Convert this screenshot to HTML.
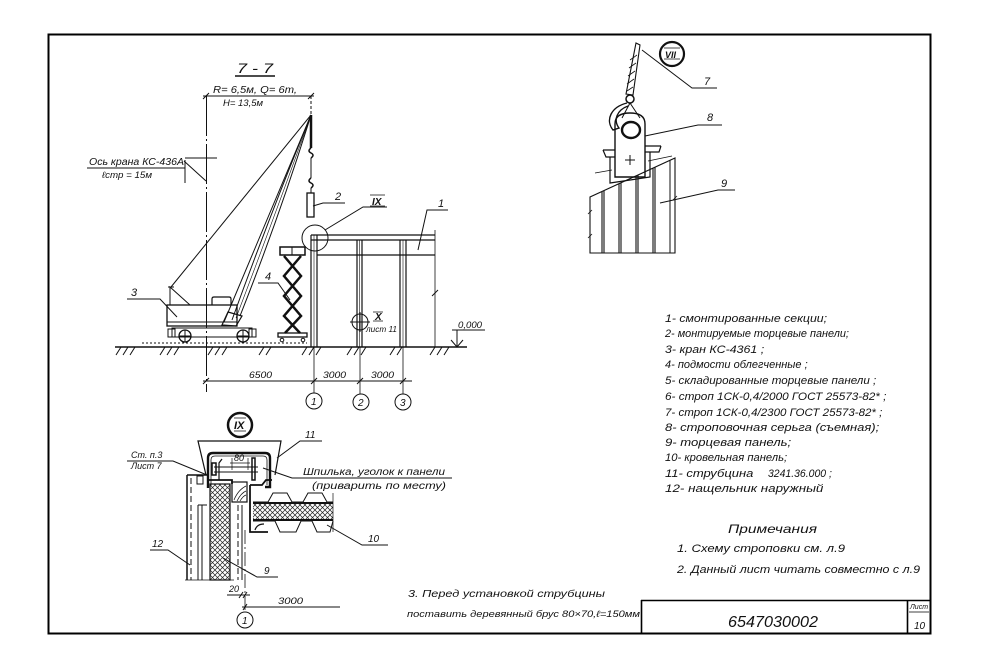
<!DOCTYPE html>
<html><head><meta charset="utf-8">
<style>
html,body{margin:0;padding:0;background:#fff;}
svg{display:block}
text{font-family:"Liberation Sans","DejaVu Sans",sans-serif;font-style:italic;fill:#111;}
</style></head><body>
<svg width="982" height="670" viewBox="0 0 982 670" xmlns="http://www.w3.org/2000/svg">
<defs>
<pattern id="xh" width="5" height="5" patternUnits="userSpaceOnUse">
<path d="M0,0 L5,5 M5,0 L0,5" stroke="#222" stroke-width="0.7"/>
</pattern>
</defs>
<rect width="982" height="670" fill="#fff"/>

<!-- frame -->
<path d="M48.5,633.5 V34.5 H930.5 V633.5 Z" fill="none" stroke="#000" stroke-width="2"/>
<!-- title block -->
<g stroke="#000" fill="none">
<path d="M641,600.5 H930 M641.5,600 V633 M907.5,600 V633" stroke-width="1.6"/>
<path d="M909,612 H929" stroke-width="0.8"/>
</g>
<text x="728" y="627" font-size="16" textLength="90" lengthAdjust="spacingAndGlyphs">6547030002</text>
<text x="910" y="609" font-size="7">Лист</text>
<text x="914" y="629" font-size="10">10</text>

<!-- ============ SECTION 7-7 ============ -->
<g stroke="#111" fill="none" stroke-width="1">
<text x="237" y="73" font-size="14" textLength="36" lengthAdjust="spacingAndGlyphs" stroke="none">7 - 7</text>
<line x1="235" y1="76" x2="275" y2="76" stroke-width="1.5"/>
<line x1="203" y1="96" x2="314" y2="96"/>
<path d="M203,99 L209,93 M308,99 L314,93"/>
<line x1="206.5" y1="96" x2="206.5" y2="392" stroke-dasharray="40,3,2,3"/>
<line x1="311" y1="96" x2="311" y2="115" stroke-dasharray="3,2"/>
<line x1="87" y1="168" x2="185" y2="168"/>
<line x1="185" y1="158" x2="217" y2="158"/>
<path d="M184,161 L206,181"/>
<line x1="185" y1="160" x2="185" y2="183"/>

<rect x="167" y="305" width="70" height="21" stroke-width="1.3"/>
<line x1="167" y1="322" x2="237" y2="322"/>
<path d="M212,305 V299 Q212,297 214,297 H229 Q231,297 231,299 V305" stroke-width="1.2"/>
<path d="M170,305 V287 L190,305 M168,287 H174"/>
<line x1="171" y1="287" x2="311" y2="115"/>
<path d="M224,322 L311,115"/>
<path d="M240,316 Q280,215 311,115"/>
<path d="M232,320 Q268,220 311,115"/>
<path d="M236,318 Q274,218 311,115" stroke-width="0.6"/>
<path d="M222,325 L228,312 L242,316 L236,326 Z" stroke-width="1.2"/>
<rect x="172" y="328" width="80" height="9"/>
<rect x="168" y="329" width="7" height="8"/>
<rect x="249" y="329" width="7" height="8"/>
<circle cx="185" cy="336" r="6" stroke-width="1.3"/>
<circle cx="243" cy="336" r="6" stroke-width="1.3"/>
<path d="M179,336 H191 M185,330 V342 M237,336 H249 M243,330 V342"/>
<path d="M142,343 H307" stroke-dasharray="2,2"/>
<line x1="115" y1="347" x2="467" y2="347" stroke-width="1.5"/>
<path d="M116,355 L121,347 M123,355 L128,347 M130,355 L135,347
M160,355 L165,347 M167,355 L172,347 M174,355 L179,347
M208,355 L213,347 M215,355 L220,347 M222,355 L227,347
M259,355 L264,347 M266,355 L271,347
M302,355 L307,347 M309,355 L314,347 M316,355 L321,347
M347,355 L352,347 M354,355 L359,347 M361,355 L366,347
M390,355 L395,347 M397,355 L402,347
M430,355 L435,347 M437,355 L442,347 M444,355 L449,347"/>
<line x1="311" y1="115" x2="311" y2="148" stroke-width="2.5"/>
<path d="M311,148 Q307,151 311,153 Q315,155 311,158" stroke-width="1.5"/>
<line x1="311" y1="158" x2="311" y2="178"/>
<path d="M311,178 Q307,181 311,183 Q315,185 311,188" stroke-width="1.5"/>
<line x1="311" y1="188" x2="311" y2="193"/>
<rect x="307" y="193" width="7" height="24" stroke-width="1.3"/>
<path d="M311,235 H435 M311,240 H435 M317,255 H435" stroke-width="1.2"/>
<path d="M311,235 V347 M317,235 V347 M357,240 V347 M362,240 V347 M400,240 V347 M406,240 V347" stroke-width="1.2"/>
<path d="M314,235 V347 M359.5,240 V347 M403,240 V347" stroke-width="0.6"/>
<line x1="435" y1="230" x2="435" y2="347" stroke-width="0.8"/>
<path d="M432,296 L438,290"/>
<circle cx="315" cy="238" r="13"/>
<path d="M325,230 L363,207 H387"/>
<path d="M418,250 L427,210 H448"/>
<path d="M313,206 L323,203 H345"/>
<path d="M177,317 L160,299 H127"/>
<path d="M290,300 L278,283 H258"/>
<rect x="280" y="247" width="25" height="8" stroke-width="1.5"/>
<line x1="292" y1="247" x2="292" y2="255"/>
<path d="M284,256 L301,276 L284,296 L301,316 L285,333" stroke-width="2.5"/>
<path d="M301,256 L284,276 L301,296 L284,316 L300,333" stroke-width="2.5"/>
<rect x="278" y="333" width="29" height="4" stroke-width="1.3"/>
<circle cx="282" cy="340" r="1.8"/><circle cx="303" cy="340" r="1.8"/>
<circle cx="360" cy="322" r="8"/>
<path d="M350,322 H370 M360,312 V332"/>
<path d="M373,312 H383 M373,321 H383" stroke-width="0.8"/>
<path d="M452,330 H485 M457,330 V347 M451,340 L457,347 L463,340"/>
<line x1="203" y1="381" x2="412" y2="381"/>
<path d="M203,384 L209,378 M311,384 L317,378 M357,384 L363,378 M400,384 L406,378"/>
<path d="M314,347 V393 M360,347 V394 M403,347 V394" stroke-width="0.8"/>
<circle cx="314" cy="401" r="8"/><circle cx="361" cy="402" r="8"/><circle cx="403" cy="402" r="8"/>
</g>
<g font-size="10">
<text x="213" y="93" textLength="84" lengthAdjust="spacingAndGlyphs">R= 6,5м, Q= 6т,</text>
<text x="223" y="106" font-size="9" textLength="40" lengthAdjust="spacingAndGlyphs">Н= 13,5м</text>
<text x="89" y="165" font-size="10" textLength="95" lengthAdjust="spacingAndGlyphs">Ось крана КС-436А</text>
<text x="102" y="178" font-size="9" textLength="50" lengthAdjust="spacingAndGlyphs">ℓстр = 15м</text>
<text x="372" y="205" font-style="normal" font-family="Liberation Serif" font-weight="bold">IX</text>
<path d="M370,195 H385 M370,206 H385" stroke="#111" stroke-width="0.8"/>
<text x="438" y="207" font-size="11">1</text>
<text x="335" y="200" font-size="11">2</text>
<text x="131" y="296" font-size="11">3</text>
<text x="265" y="280" font-size="11">4</text>
<text x="375" y="320" font-style="normal" font-family="Liberation Serif" font-weight="bold">X</text>
<text x="366" y="332" font-size="8" textLength="31" lengthAdjust="spacingAndGlyphs">лист 11</text>
<text x="458" y="328" font-size="9" textLength="24" lengthAdjust="spacingAndGlyphs">0,000</text>
<text x="249" y="378" font-size="9" textLength="23" lengthAdjust="spacingAndGlyphs">6500</text>
<text x="323" y="378" font-size="9" textLength="23" lengthAdjust="spacingAndGlyphs">3000</text>
<text x="371" y="378" font-size="9" textLength="23" lengthAdjust="spacingAndGlyphs">3000</text>
<text x="311" y="405" font-size="10">1</text>
<text x="358" y="406" font-size="10">2</text>
<text x="400" y="406" font-size="10">3</text>
</g>

<!-- ============ DETAIL VII ============ -->
<g stroke="#111" fill="none" stroke-width="1">
<circle cx="672" cy="54" r="12" stroke-width="2.2"/>
<path d="M636,43 L640,45 L633,95 L626,94 Z" stroke-width="1.1"/>
<path d="M637,55 L630,60 M636,63 L629,68 M635,71 L628,76 M634,79 L627,84 M633,87 L627,91" stroke-width="0.8"/>
<circle cx="630" cy="99" r="4" stroke-width="1.5"/>
<path d="M627,103 C611,107 605,120 613,130 L619,128 C613,120 617,110 628,106" stroke-width="1.4"/>
<path d="M630,103 L622,118 M630,103 L640,118"/>
<path d="M615,177 V124 Q615,113 630,113 Q645,113 645,124 V177 Z" stroke-width="1.4"/>
<ellipse cx="631" cy="130" rx="9" ry="8" stroke-width="2.4"/>
<path d="M625,160 H635 M630,155 V165"/>
<path d="M603,150 H615 M603,150 L606,157 H615 M645,146 H661 M645,152 H659 L661,146" stroke-width="1.2"/>
<path d="M610,157 V183 L650,177 V152" stroke-width="1.2"/>
<path d="M590,253 V197 L675,158 V253 Z" stroke-width="1.1"/>
<line x1="670" y1="160" x2="670" y2="253"/>
<path d="M602,191.5 V253 M604,190.5 V253 M619,183.7 V253 M621,182.8 V253 M636,175.9 V253 M638,175 V253 M653,168 V253 M655,167 V253" stroke-width="1.1"/>
<path d="M595,173 L612,170 M648,161 L672,156" stroke-width="0.8"/>
<path d="M588,214 L592,210 M588,238 L592,234 M673,200 L677,196" stroke-width="0.8"/>
<path d="M642,50 L692,88 H717"/>
<path d="M645,136 L698,125 H722"/>
<path d="M660,203 L718,190 H735"/>
</g>
<text x="665" y="58" font-size="9" font-style="normal" font-family="Liberation Serif" font-weight="bold">VII</text>
<path d="M664,48 H680 M664,59 H680" stroke="#111" stroke-width="0.8"/>
<text x="704" y="85" font-size="11">7</text>
<text x="707" y="121" font-size="11">8</text>
<text x="721" y="187" font-size="11">9</text>

<!-- ============ LEGEND ============ -->
<g font-size="11">
<text transform="translate(665,322) scale(1.12,1)">1- смонтированные секции;</text>
<text transform="translate(665,337) scale(0.99,1)">2- монтируемые торцевые панели;</text>
<text transform="translate(665,353) scale(1.13,1)">3- кран КС-4361 ;</text>
<text transform="translate(665,368) scale(1.0,1)">4- подмости облегченные ;</text>
<text transform="translate(665,384) scale(1.055,1)">5- складированные торцевые панели ;</text>
<text transform="translate(665,400) scale(1.07,1)">6- строп 1СК-0,4/2000 ГОСТ 25573-82* ;</text>
<text transform="translate(665,416) scale(1.05,1)">7- строп 1СК-0,4/2300 ГОСТ 25573-82* ;</text>
<text transform="translate(665,431) scale(1.18,1)">8- строповочная серьга (съемная);</text>
<text transform="translate(665,446) scale(1.19,1)">9- торцевая панель;</text>
<text transform="translate(665,461) scale(1.02,1)">10- кровельная панель;</text>
<text transform="translate(665,477) scale(1.18,1)">11- струбцина</text>
<text transform="translate(768,477) scale(0.95,1)">3241.36.000 ;</text>
<text transform="translate(665,492) scale(1.22,1)">12- нащельник наружный</text>
</g>

<!-- notes -->
<text x="728" y="533" font-size="12" textLength="89" lengthAdjust="spacingAndGlyphs">Примечания</text>
<text x="677" y="552" font-size="11" textLength="168" lengthAdjust="spacingAndGlyphs">1. Схему строповки   см. л.9</text>
<text x="677" y="573" font-size="11" textLength="243" lengthAdjust="spacingAndGlyphs">2. Данный  лист читать совместно с л.9</text>
<text x="408" y="597" font-size="10" textLength="197" lengthAdjust="spacingAndGlyphs">3. Перед установкой  струбцины</text>
<text x="407" y="617" font-size="9" textLength="233" lengthAdjust="spacingAndGlyphs">поставить  деревянный брус 80×70,ℓ=150мм</text>

<!-- ============ DETAIL IX ============ -->
<g stroke="#111" fill="none" stroke-width="1">
<circle cx="240" cy="425" r="12" stroke-width="2.5"/>
<path d="M234,418 H246 M234,431 H246" stroke-width="0.8"/>
<path d="M206,475 L198,441 H281 L275,475" stroke-width="1.2"/>
<path d="M208,488 V458 Q208,453 213,453 H265 Q270,453 270,458 V487 H265" stroke-width="2.4"/>
<path d="M211,486 V460 Q211,456 215,456 H263 Q267,456 267,460 V485" stroke-width="0.8"/>
<path d="M214,467 H258 M214,472 H258"/>
<rect x="212" y="463" width="4" height="12" stroke-width="1.5"/>
<rect x="252" y="458" width="3" height="22" stroke-width="1.5"/>
<path d="M222,459 L219,463 V480" stroke-width="1.2"/>
<path d="M208,480 H232 V484" stroke-width="1.8"/>
<rect x="210" y="484" width="20" height="96" fill="url(#xh)" stroke-width="1.2"/>
<rect x="232" y="482" width="15" height="20" stroke-width="1.2"/>
<path d="M234,500 Q238,490 246,486 M237,501 Q241,493 246,491 M240,501 Q243,496 246,495" stroke-width="0.7"/>
<path d="M250,485 V532 H268" stroke-width="1.8"/>
<path d="M250,485 H262 L266,480 H272" stroke-width="1.8"/>
<rect x="253" y="503" width="80" height="17" fill="url(#xh)" stroke="none"/>
<path d="M253,503 H333 M253,520 H333" stroke-width="2"/>
<path d="M253,502 H268 L273,493 H287 L292,502 H303 L308,493 H322 L327,502 H333"/>
<path d="M253,521 H275 L280,532 H296 L301,521 H312 L317,532 H330 L333,521"/>
<path d="M333,493 V532" stroke-width="0.7"/>
<path d="M255,530 Q257,524 264,524" stroke-width="1.2"/>
<path d="M187,475 V580 M187,475 H207" stroke-width="1.5"/>
<path d="M191,478 V580" stroke-dasharray="6,3"/>
<path d="M198,505 V580 M202,505 V580 M198,505 H207"/>
<rect x="197" y="476" width="6" height="8"/>
<path d="M238,505 V580" stroke-dasharray="6,3"/>
<path d="M242,505 V580"/>
<path d="M185,580 H234" stroke-width="0.8"/>
<path d="M245,530 V612" stroke-dasharray="14,3,2,3" stroke-width="0.8"/>
<circle cx="245" cy="620" r="8"/>
<path d="M232,470 V458 M248,470 V458 M230,463 H250" stroke-width="0.7"/>
<path d="M227,595 H250 M239,598 L243,592 M243,598 L247,592"/>
<path d="M242,607 H340 M243,610 L247,604"/>
<path d="M127,461 H173 L207,475"/>
<path d="M277,458 L300,441 H322"/>
<path d="M263,468 L292,478 H452"/>
<path d="M327,525 L362,545 H388"/>
<path d="M150,550 H168 L190,565"/>
<path d="M223,558 L257,577 H278"/>
</g>
<text x="234" y="429" font-size="11" font-style="normal" font-family="Liberation Serif" font-weight="bold">IX</text>
<g font-size="10">
<text x="131" y="458" font-size="9">Ст. п.3</text>
<text x="131" y="469" font-size="9">Лист 7</text>
<text x="305" y="438">11</text>
<text x="303" y="475" font-size="10" textLength="142" lengthAdjust="spacingAndGlyphs">Шпилька, уголок к панели</text>
<text x="312" y="489" font-size="10" textLength="134" lengthAdjust="spacingAndGlyphs">(приварить по месту)</text>
<text x="368" y="542">10</text>
<text x="152" y="547">12</text>
<text x="264" y="574">9</text>
<text x="234" y="461" font-size="9">80</text>
<text x="229" y="592" font-size="9">20</text>
<text x="278" y="604" font-size="9" textLength="25" lengthAdjust="spacingAndGlyphs">3000</text>
<text x="242" y="624">1</text>
</g>
</svg>
</body></html>
